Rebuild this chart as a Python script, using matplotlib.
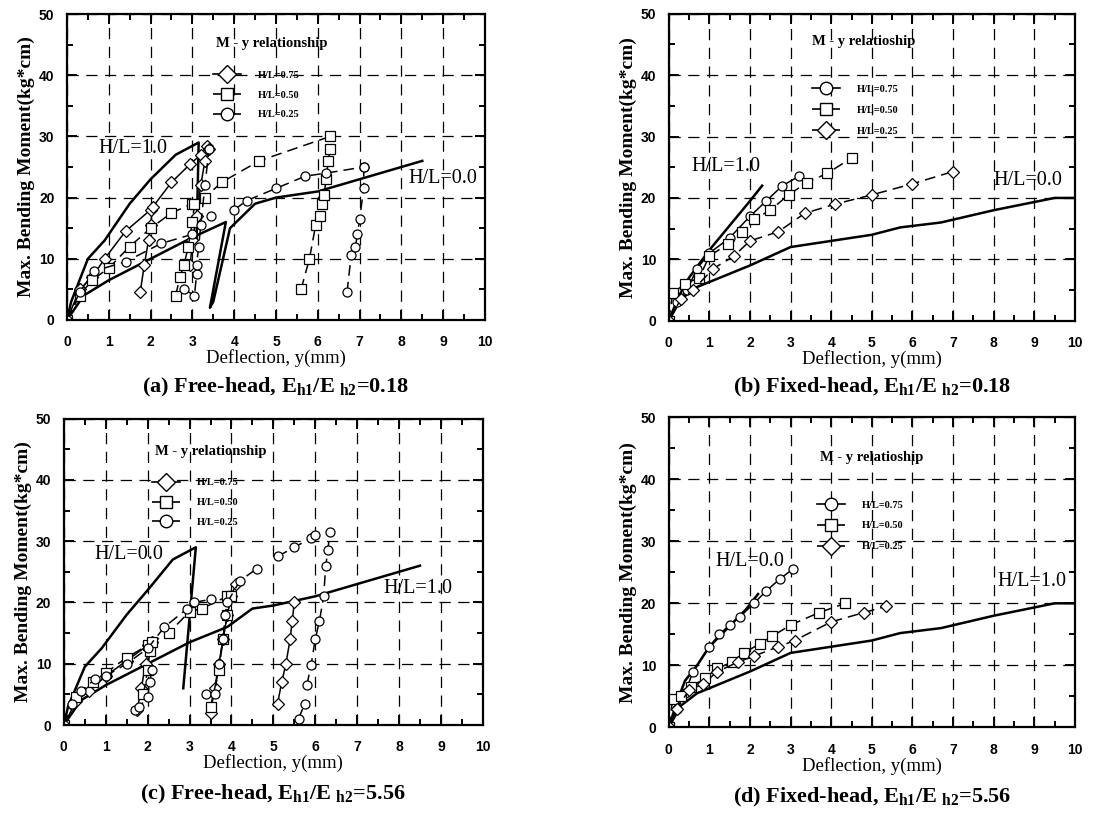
import numpy as np
import matplotlib.pyplot as plt
from matplotlib.ticker import MultipleLocator
from matplotlib.lines import Line2D

nan = np.nan

plt.rcParams['mathtext.fontset'] = 'custom'
plt.rcParams['mathtext.rm'] = 'Liberation Serif'
plt.rcParams['mathtext.bf'] = 'Liberation Serif:bold'

# ---------------- panel (a): free-head, Eh1/Eh2 = 0.18 ----------------
a_th1_x = [0, 0.1, 0.5, 0.9, 1.5, 2.0, 2.6, 3.15, 3.1]
a_th1_y = [0, 3, 10, 13, 19, 23, 27, 29, 13]
a_th0_x = [0, 0.4, 1.0, 2.0, 3.0, 3.8, 3.42, 3.5, 3.9, 4.5, 5.0, 6.0, 7.0, 8.5]
a_th0_y = [0, 4, 6.5, 10, 13.5, 16, 2, 3, 15, 19, 20, 21, 23, 26]
a_075_x = [0, 0.3, 0.6, 0.9, 1.4, 2.0, 2.5, 2.95, 3.2, 3.35, nan,
           1.75, 1.85, 1.95, 2.0, 2.05, nan, 2.95, 3.0, 3.1, 3.2, 3.3, 3.4]
a_075_y = [0, 5, 7, 10, 14.5, 18, 22.5, 25.5, 27, 28.5, nan,
           4.5, 9, 13, 15.5, 18.5, nan, 9, 13, 17, 22, 26, 28]
a_050_x = [0, 0.3, 0.6, 1.0, 1.5, 2.0, 2.5, 3.0, nan,
           2.6, 2.7, 2.8, 2.9, 3.0, 3.05, 3.3, 3.7, 4.6, 6.3, nan,
           5.6, 5.8, 5.95, 6.05, 6.1, 6.15, 6.2, 6.25, 6.3]
a_050_y = [0, 4, 6.5, 8.5, 12, 15, 17.5, 19, nan,
           4, 7, 9, 12, 16, 19, 20, 22.5, 26, 30, nan,
           5, 10, 15.5, 17, 19, 20.5, 23, 26, 28]
a_025_x = [0, 0.3, 0.65, 1.4, 2.25, 3.0, 3.45, nan,
           2.8, 3.05, 3.1, 3.1, 3.15, 3.2, 3.3, 3.4, nan,
           4.0, 4.3, 5.0, 5.7, 6.2, 7.1, nan,
           6.7, 6.8, 6.9, 6.95, 7.0, 7.1, 7.1]
a_025_y = [0, 4.5, 8, 9.5, 12.5, 14, 17, nan,
           5, 4, 7.5, 9, 12, 15.5, 22, 28, nan,
           18, 19.5, 21.5, 23.5, 24, 25, nan,
           4.5, 10.7, 12, 14, 16.5, 21.5, 25]

# ---------------- panel (b): fixed-head, Eh1/Eh2 = 0.18 ----------------
b_th1_x = [0, 0.25, 0.5, 1.0, 1.5, 2.0, 2.3]
b_th1_y = [0, 4, 7, 11.5, 15.5, 19.5, 22]
b_th0_x = [0, 0.3, 0.7, 1.0, 2.0, 3.0, 4.0, 5.0, 5.7, 6.7, 8.0, 9.5, 10.0]
b_th0_y = [0, 3.5, 5.5, 6.3, 9, 12, 13, 14, 15.2, 16, 18, 20, 20]
b_075_x = [0, 0.2, 0.45, 0.7, 1.0, 1.5, 2.0, 2.4, 2.8, 3.2]
b_075_y = [0, 3, 5, 8.5, 11, 13.5, 17, 19.5, 22, 23.5]
b_050_x = [0, 0.1, 0.4, 0.75, 1.0, 1.45, 1.8, 2.1, 2.5, 2.95, 3.4, 3.9, 4.5]
b_050_y = [0, 4.5, 6, 7, 10.5, 12.5, 14.5, 16.5, 18, 20.5, 22.5, 24, 26.5]
b_025_x = [0, 0.3, 0.6, 1.1, 1.6, 2.0, 2.7, 3.35, 4.1, 5.0, 6.0, 7.0]
b_025_y = [0, 3.5, 5, 8.5, 10.5, 13, 14.5, 17.5, 19, 20.5, 22.3, 24.3]

# ---------------- panel (c): free-head, Eh1/Eh2 = 5.56 ----------------
c_th0_x = [0, 0.1, 0.5, 0.9, 1.5, 2.0, 2.6, 3.15, 2.85]
c_th0_y = [0, 3, 9.5, 12.5, 18, 22, 27, 29, 6]
c_th1_x = [0, 0.4, 1.0, 2.0, 3.0, 3.9, 4.5, 5.0, 6.0, 7.0, 8.5]
c_th1_y = [0, 4, 6.5, 10, 13.5, 16, 19, 19.5, 21, 23, 26]
c_075_x = [0, 0.3, 0.6, 1.0, 1.5, 2.0, 2.1, nan,
           1.75, 1.85, 1.95, 2.05, nan,
           3.5, 3.6, 3.7, 3.8, 3.9, 4.0, 4.1, nan,
           5.1, 5.2, 5.3, 5.4, 5.45, 5.5]
c_075_y = [0, 4, 5.5, 8, 10.5, 13, 13.5, nan,
           2.5, 6, 10, 13, nan,
           2, 6, 10, 14, 18, 21, 23, nan,
           3.5, 7, 10, 14, 17, 20]
c_050_x = [0, 0.3, 0.7, 1.0, 1.5, 2.0, nan,
           1.9, 2.0, 2.05, 2.1, 2.5, 3.0, 3.3, 3.9, nan,
           3.5, 3.7, 3.8, 3.9, 4.0]
c_050_y = [0, 4.5, 7, 8.5, 11, 13, nan,
           5, 9, 12, 13.5, 15, 18.5, 19, 21, nan,
           3, 9, 14, 18, 21]
c_025_x = [0, 0.2, 0.4, 0.75, 1.0, 1.5, 2.0, 2.4, 2.95, 3.1, 3.5, nan,
           1.7, 1.8, 2.0, 2.05, 2.1, nan,
           3.4, 3.6, 3.7, 3.8, 3.85, 3.9, 4.2, 4.6, nan,
           5.1, 5.5, 5.9, 6.0, nan,
           5.6, 5.75, nan,
           5.8, 5.9, 6.0, 6.1, 6.2, 6.25, 6.3, 6.35]
c_025_y = [0, 3.5, 5.5, 7.5, 8, 10, 12.5, 16, 19, 20, 20.5, nan,
           2.5, 3, 4.5, 7, 9, nan,
           5, 5, 10, 14, 18, 20, 23.5, 25.5, nan,
           27.5, 29, 30.5, 31, nan,
           1, 3.5, nan,
           6.5, 9.8, 14, 17, 21, 26, 28.5, 31.5]

# ---------------- panel (d): fixed-head, Eh1/Eh2 = 5.56 ----------------
d_th0_x = [0, 0.2, 0.4, 0.7, 1.0, 1.3, 1.6, 1.9, 2.2]
d_th0_y = [0, 4, 7.5, 10, 13, 15, 17, 19, 21.5]
d_th1_x = [0, 0.3, 0.7, 1.0, 2.0, 3.0, 4.0, 5.0, 5.7, 6.7, 8.0, 9.5, 10.0]
d_th1_y = [0, 3.5, 5.5, 6.3, 9, 12, 13, 14, 15.2, 16, 18, 20, 20]
d_075_x = [0, 0.2, 0.4, 0.6, 1.0, 1.25, 1.5, 1.75, 2.1, 2.4, 2.75, 3.05]
d_075_y = [0, 3, 5.5, 9, 13, 15, 16.5, 17.8, 20, 22, 24, 25.5]
d_050_x = [0, 0.1, 0.3, 0.55, 0.9, 1.2, 1.55, 1.85, 2.25, 2.55, 3.0, 3.7, 4.35]
d_050_y = [0, 4.5, 5, 6.5, 8, 9.5, 10.5, 12, 13.5, 14.7, 16.5, 18.5, 20]
d_025_x = [0, 0.2, 0.5, 0.85, 1.2, 1.7, 2.1, 2.7, 3.1, 4.0, 4.8, 5.35]
d_025_y = [0, 3, 6, 7, 9, 10.5, 11.5, 13, 14, 17, 18.5, 19.5]

hl_labels = ['H/L=0.75', 'H/L=0.50', 'H/L=0.25']

SOLID = '-'
DASH = (0, (7, 4))


def panel(ax, theory, series, legend_title, legend_pos, labels, caption,
          cap_y):
    for (tx, ty) in theory:
        ax.plot(tx, ty, color='black', lw=1.8)
    for (x, y, m, ls) in series:
        ax.plot(x, y, color='black', lw=1.1, ls=ls, marker=m, ms=6.5,
                mfc='white', mec='black', mew=0.9)

    ax.set_xlim(0, 10)
    ax.set_ylim(0, 50)
    ax.xaxis.set_major_locator(MultipleLocator(1))
    ax.xaxis.set_minor_locator(MultipleLocator(0.5))
    ax.yaxis.set_major_locator(MultipleLocator(10))
    ax.yaxis.set_minor_locator(MultipleLocator(5))
    ax.tick_params(which='both', direction='in', top=True, right=True,
                   width=1.4)
    ax.tick_params(which='major', length=7, labelsize=10)
    ax.tick_params(axis='x', which='major', pad=11)
    ax.tick_params(axis='y', which='major', pad=9)
    ax.tick_params(which='minor', length=4)
    for lab in ax.get_xticklabels() + ax.get_yticklabels():
        lab.set_fontweight('bold')
        lab.set_family('Liberation Sans')
    for s in ax.spines.values():
        s.set_linewidth(1.6)
    ax.grid(True, which='major', color='black', lw=0.9, ls=(0, (9, 6)))

    ax.set_xlabel('Deflection, y(mm)', family='Liberation Serif',
                  fontsize=13.5, labelpad=0)
    ax.set_ylabel('Max. Bending Moment(kg*cm)', family='Liberation Serif',
                  fontsize=14, fontweight='bold', labelpad=3)
    ax.text(0.5, cap_y, caption, transform=ax.transAxes, ha='center',
            va='center', family='Liberation Serif', fontsize=16,
            fontweight='bold')

    for (tx, ty, t) in labels:
        ax.text(tx, ty, t, family='Liberation Serif', fontsize=14.5,
                ha='left', va='center')

    tx, ty, hx, hy, sp = legend_pos
    ax.text(tx, ty, legend_title, transform=ax.transAxes, ha='center',
            va='center', family='Liberation Serif', fontsize=10.5,
            fontweight='bold')
    handles = []
    for (x, y, m, ls), lab in zip(series, hl_labels):
        handles.append(Line2D([], [], color='black', lw=1.2, ls=ls, marker=m,
                              ms=9, mfc='white', mec='black', label=lab))
    ax.legend(handles=handles, loc='center left', bbox_to_anchor=(hx, hy),
              frameon=False, borderpad=0, borderaxespad=0,
              handlelength=2.7, handletextpad=1.6, labelspacing=sp,
              prop={'family': 'Liberation Serif', 'weight': 'bold',
                    'size': 7.5})


fig = plt.figure(figsize=(10.93, 8.14), dpi=100)
ax_a = fig.add_axes([0.0613, 0.6069, 0.3824, 0.3759])
ax_b = fig.add_axes([0.6118, 0.6060, 0.3717, 0.3771])
ax_c = fig.add_axes([0.0584, 0.1093, 0.3834, 0.3765])
ax_d = fig.add_axes([0.6118, 0.1065, 0.3717, 0.3808])

panel(ax_a,
      [(a_th1_x, a_th1_y), (a_th0_x, a_th0_y)],
      [(a_075_x, a_075_y, 'D', SOLID),
       (a_050_x, a_050_y, 's', DASH),
       (a_025_x, a_025_y, 'o', DASH)],
      'M - y relationship', (0.49, 0.905, 0.35, 0.735, 1.0),
      [(0.75, 28.1, 'H/L=1.0'), (8.17, 23.2, 'H/L=0.0')],
      r'(a) Free-head, $\mathbf{E_{h1}/E_{\ h2}}$=0.18', -0.219)

panel(ax_b,
      [(b_th1_x, b_th1_y), (b_th0_x, b_th0_y)],
      [(b_075_x, b_075_y, 'o', SOLID),
       (b_050_x, b_050_y, 's', DASH),
       (b_025_x, b_025_y, 'D', DASH)],
      'M - y relatioship', (0.48, 0.91, 0.353, 0.686, 1.1),
      [(0.57, 25.1, 'H/L=1.0'), (8.0, 22.9, 'H/L=0.0')],
      r'(b) Fixed-head, $\mathbf{E_{h1}/E_{\ h2}}$=0.18', -0.219)

panel(ax_c,
      [(c_th0_x, c_th0_y), (c_th1_x, c_th1_y)],
      [(c_075_x, c_075_y, 'D', SOLID),
       (c_050_x, c_050_y, 's', DASH),
       (c_025_x, c_025_y, 'o', DASH)],
      'M - y relationship', (0.35, 0.892, 0.21, 0.726, 1.0),
      [(0.72, 27.8, 'H/L=0.0'), (7.63, 22.2, 'H/L=1.0')],
      r'(c) Free-head, $\mathbf{E_{h1}/E_{\ h2}}$=5.56', -0.225)

panel(ax_d,
      [(d_th0_x, d_th0_y), (d_th1_x, d_th1_y)],
      [(d_075_x, d_075_y, 'o', SOLID),
       (d_050_x, d_050_y, 's', DASH),
       (d_025_x, d_025_y, 'D', DASH)],
      'M - y relatioship', (0.50, 0.871, 0.365, 0.65, 1.1),
      [(1.16, 26.8, 'H/L=0.0'), (8.09, 23.5, 'H/L=1.0')],
      r'(d) Fixed-head, $\mathbf{E_{h1}/E_{\ h2}}$=5.56', -0.225)

fig.savefig('out.png', dpi=100, facecolor='white')
